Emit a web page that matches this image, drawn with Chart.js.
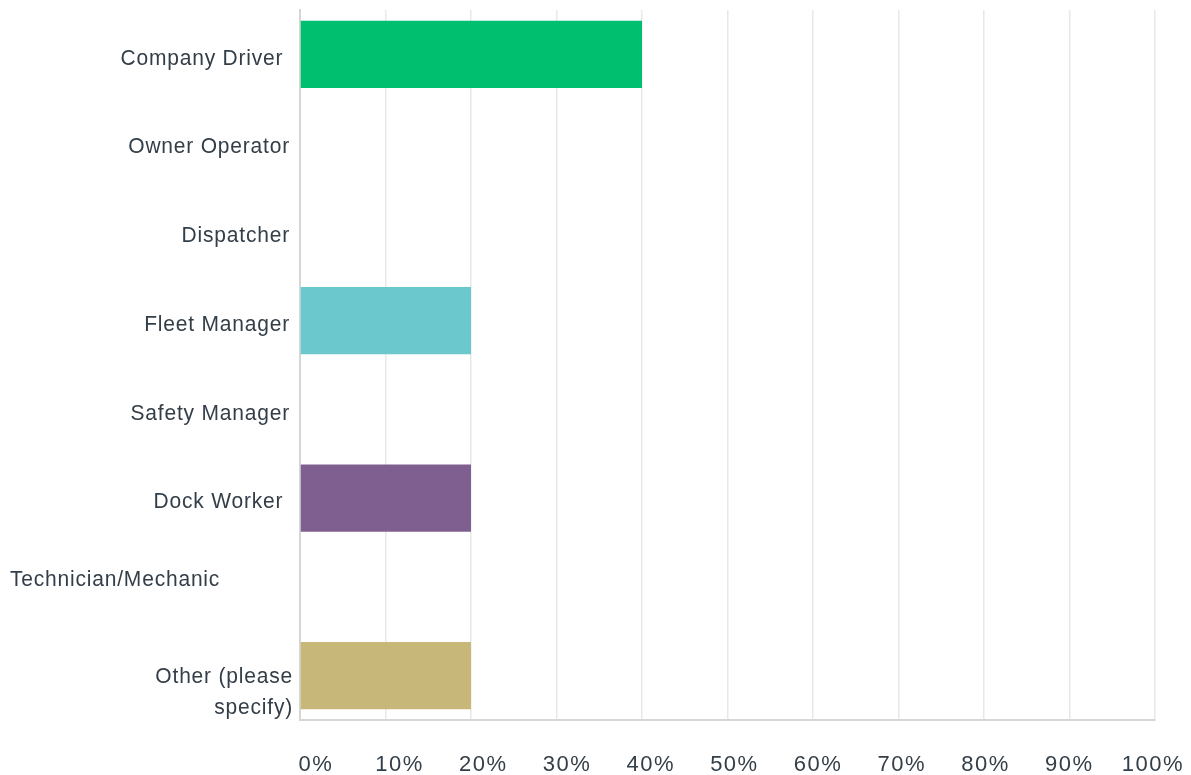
<!DOCTYPE html>
<html>
<head>
<meta charset="utf-8">
<script src="https://cdn.jsdelivr.net/npm/chart.js@4.4.1/dist/chart.umd.min.js"></script>
<style>
  html, body { margin: 0; padding: 0; background: #fff; }
  #wrap { width: 1191px; height: 775px; position: relative; }
</style>
</head>
<body>
<div id="wrap"><canvas id="chart"></canvas></div>
<script>
// survey answer choices (trailing spaces kept as in the source labels)
const categories = ['Company Driver ', 'Owner Operator', 'Dispatcher', 'Fleet Manager',
  'Safety Manager', 'Dock Worker ', 'Technician/Mechanic', ['Other (please', 'specify)']];
const responses = [40, 0, 0, 20, 0, 20, 0, 20];
const barColors = ['#00bf6f', '#507cb6', '#f9be00', '#6bc8cd', '#ff8b4f', '#7f5f8f', '#d25f90', '#c7b879'];
const xTickValues = [0, 10, 20, 30, 40, 50, 60, 70, 80, 90, 100];

const textColor = '#333e48';
const fontFamily = '"Liberation Sans", Arial, Helvetica, sans-serif';

// canvas letter spacing gets reset on resize, so set it before each draw
const spacing = {
  id: 'spacing',
  beforeDraw(chart) { chart.ctx.letterSpacing = '1.5px'; }
};

// category labels drawn by hand so the odd ones can sit where the original puts them
const yLabels = {
  id: 'yLabels',
  afterDraw(chart) {
    const { ctx, scales: { y } } = chart;
    const put = (text, x, yy) => {
      ctx.save();
      ctx.translate(x, yy);
      ctx.scale(1, 1.08);
      ctx.fillText(text, 0, 0);
      ctx.restore();
    };
    ctx.save();
    ctx.letterSpacing = '0.8px';
    ctx.font = '21px ' + fontFamily;
    ctx.fillStyle = textColor;
    ctx.textBaseline = 'middle';
    categories.forEach((label, i) => {
      const yc = y.getPixelForValue(i);
      if (Array.isArray(label)) {
        ctx.textAlign = 'right';
        label.forEach((line, j) => put(line, y.right - 7, yc + 1 + j * 31));
      } else if (label.length > 16) {
        ctx.textAlign = 'left';
        put(label, 10, yc - 7);
      } else {
        ctx.textAlign = 'right';
        put(label, y.right - 10, yc + 4);
      }
    });
    ctx.restore();
  }
};

new Chart(document.getElementById('chart'), {
  type: 'bar',
  data: {
    labels: categories,
    datasets: [{
      data: responses,
      backgroundColor: barColors,
      borderWidth: 0,
      barPercentage: 0.755,
      categoryPercentage: 1
    }]
  },
  options: {
    indexAxis: 'y',
    responsive: true,
    maintainAspectRatio: false,
    animation: false,
    layout: { padding: { top: 10, right: 36, left: 0, bottom: 0 } },
    plugins: {
      legend: { display: false },
      tooltip: { enabled: false }
    },
    scales: {
      x: {
        min: 0,
        max: 100,
        afterBuildTicks: (scale) => { scale.ticks = xTickValues.map(v => ({ value: v })); },
        afterFit: (scale) => { scale.height = 0; scale.paddingLeft = 0; scale.paddingRight = 0; },
        grid: { color: '#e8e8e8', lineWidth: 1.5, drawTicks: false },
        border: { display: true, color: '#d6d6d6', width: 2 },
        ticks: { display: false }
      },
      // the percent labels in the original are spread a little narrower than the grid
      xLabels: {
        type: 'linear',
        position: 'bottom',
        axis: 'x',
        min: -1.9,
        max: 100.25,
        afterBuildTicks: (scale) => { scale.ticks = xTickValues.map(v => ({ value: v })); },
        afterFit: (scale) => { scale.height = 55; scale.paddingLeft = 0; scale.paddingRight = 0; },
        grid: { display: false, drawTicks: false },
        border: { display: false },
        ticks: {
          padding: 32,
          color: textColor,
          font: { family: fontFamily, size: 22 },
          maxRotation: 0,
          autoSkip: false,
          callback: (v) => v + '%'
        }
      },
      y: {
        afterFit: (scale) => { scale.width = 300; },
        grid: { display: false },
        border: { display: true, color: '#d6d6d6', width: 2 },
        ticks: { display: false }
      }
    }
  },
  plugins: [spacing, yLabels]
});
</script>
</body>
</html>
